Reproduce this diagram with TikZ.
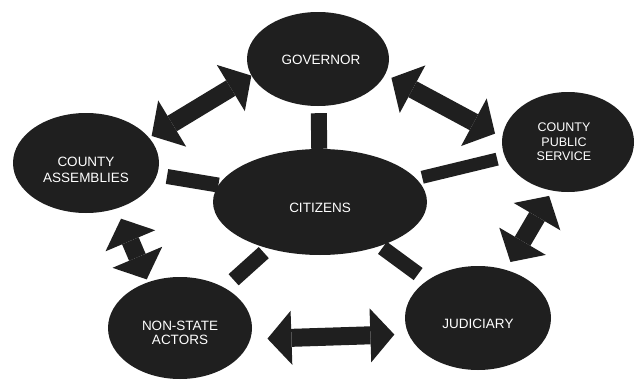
\documentclass[tikz,border=0pt]{standalone}
\usepackage{fontspec}
\setmainfont{Liberation Sans}
\usetikzlibrary{arrows.meta,shapes.geometric}
\begin{document}
\begin{tikzpicture}[x=1pt,y=-1pt,
  ell/.style={ellipse, fill=black!88, draw=none, inner sep=0pt},
  txt/.style={text=white, font=\fontsize{13.5}{15}\selectfont, align=center},
  bar/.style={line width=15pt, draw=black!88},
  dbl/.style={line width=18pt, draw=black!88,
    {Triangle[length=24pt,width=54pt,line width=0pt]}-{Triangle[length=24pt,width=54pt,line width=0pt]}}]
\useasboundingbox (0,0) rectangle (635,380);

\node[ell, minimum width=142pt, minimum height=94pt,
  label={[txt,xshift=3pt,yshift=-1pt]center:GOVERNOR}] (gov) at (318,59) {};
\node[ell, minimum width=146pt, minimum height=100pt,
  label={[txt,font=\fontsize{13.5}{16.5}\selectfont,yshift=-7pt]center:COUNTY\\ASSEMBLIES}] (asm) at (86,163) {};
\node[ell, minimum width=132pt, minimum height=100pt,
  label={[txt,font=\fontsize{12.5}{14.5}\selectfont,xshift=-4pt]center:COUNTY\\PUBLIC\\SERVICE}] (cps) at (568,142) {};
\node[ell, minimum width=214pt, minimum height=106pt,
  label={[txt,yshift=-6pt]center:CITIZENS}] (cit) at (320,202) {};
\node[ell, minimum width=144pt, minimum height=102pt,
  label={[txt,font=\fontsize{13.5}{13.5}\selectfont,yshift=-5pt]center:NON-STATE\\ACTORS}] (nsa) at (180,328) {};
\node[ell, minimum width=146pt, minimum height=104pt,
  label={[txt,yshift=-6pt]center:JUDICIARY}] (jud) at (478,318) {};

% bars from citizens
\draw[bar, line width=16pt, shorten <=7pt] (gov) -- (cit);
\draw[bar, shorten <=10pt] (asm) -- (cit);
\draw[bar, line width=13pt, shorten <=8pt, shorten >=6pt] (cps) -- (cit);
\draw[bar, shorten <=12pt, shorten >=6pt] (nsa) -- (cit);
\draw[bar, shorten <=11pt, shorten >=3pt] (jud) -- (cit);

% double arrows
\draw[dbl, shorten >=3pt] (gov.194) -- (asm.22);
\draw[dbl, shorten <=7pt, shorten >=8pt] (gov.347) -- (cps.176);
\draw[dbl, shorten <=11pt, shorten >=3pt] (asm.304) -- (nsa.125);
\draw[dbl, shorten <=17pt, shorten >=14pt] (nsa.351) -- (jud.193);
\draw[dbl, shorten <=6pt, shorten >=9pt] (cps.252) -- (jud.60);
\end{tikzpicture}
\end{document}
